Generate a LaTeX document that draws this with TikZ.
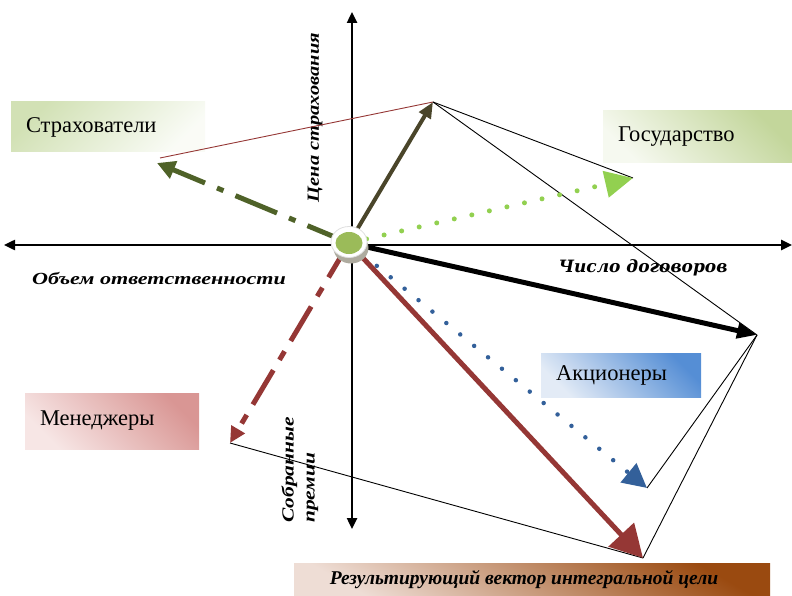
\documentclass[tikz,border=0pt]{standalone}
\usepackage{graphicx}
\usepackage{fontspec}
\setmainfont{Liberation Serif}
\newfontfamily\cambriaalt{DejaVu Serif}
\usetikzlibrary{arrows.meta,shapes.geometric}
\definecolor{olivec}{HTML}{4A452A}
\definecolor{gdark}{HTML}{4F6228}
\definecolor{glight}{HTML}{92D050}
\definecolor{bluec}{HTML}{33609A}
\definecolor{redc}{HTML}{953735}
\definecolor{cgreen}{HTML}{9BBB59}
\definecolor{sgreen}{HTML}{D2E1B5}
\definecolor{ggreen}{HTML}{C3D69B}
\definecolor{bblue}{HTML}{558ED5}
\definecolor{lblue}{HTML}{E3EBF6}
\definecolor{ppink}{HTML}{D99694}
\definecolor{lpink}{HTML}{F7E6E5}
\definecolor{brownc}{HTML}{9A4A10}
\definecolor{lbrown}{HTML}{EEDDD5}
\begin{document}
\begin{tikzpicture}[x=1pt,y=-1pt,
  axis/.style={line width=2.4pt,{Triangle[length=11pt,width=10pt]}-{Triangle[length=11pt,width=10pt]}},
  box/.style={inner xsep=15pt,inner ysep=0pt,align=left,font=\fontsize{22.5}{26}\selectfont},
  lbl/.style={font=\bfseries\itshape\fontsize{17}{21}\selectfont},
  thin/.style={line width=0.9pt}]
\useasboundingbox (0,0) rectangle (792,596);
% boxes
\node[box,text width=164pt,minimum height=50pt,top color=sgreen,bottom color=sgreen!12!white,shading angle=45] (strah) at (108,127) {Страхователи};
\node[box,text width=159pt,minimum height=52pt,top color=ggreen,bottom color=ggreen!15!white,shading angle=-45] (gos) at (697.5,137) {Государство};
\node[box,text width=130pt,minimum height=44pt,top color=bblue,bottom color=lblue,shading angle=-45] (akc) at (621,375) {Акционеры};
\node[box,text width=144pt,minimum height=56pt,top color=ppink,bottom color=lpink,shading angle=-45] (men) at (112,421) {Менеджеры};
\node[inner sep=0pt,minimum width=476pt,minimum height=33pt,top color=brownc,bottom color=lbrown,shading angle=-30,font=\bfseries\itshape\fontsize{19.5}{22}\selectfont] (res) at (532,579.5) {\hspace*{-16pt}Результирующий вектор интегральной цели};
% coordinates
\coordinate (O) at (349,243);
\coordinate (A) at (433,102);
\coordinate (S) at (157,163);
\coordinate (S2) at (160,158);
\coordinate (G) at (633,178);
\coordinate (C) at (757,335);
\coordinate (B) at (647,488);
\coordinate (R) at (643,558);
\coordinate (M) at (230,443);
\coordinate (vt) at (352,12);
\coordinate (vb) at (352,529);
\coordinate (hl) at (4,245);
\coordinate (hr) at (792,245);
% axes
\draw[axis] (vb) -- (vt);
\draw[axis] (hl) -- (hr);
% labels
\node[lbl] (vol) at (159,279) {\scalebox{1.3}[1]{Объем ответственности}};
\node[font=\cambriaalt\bfseries\itshape\fontsize{17}{21}\selectfont] (num) at (643,268) {Число договоров};
\node[lbl,rotate=90] (price) at (315,117.5) {\scalebox{1.2}[1]{Цена страхования}};
\node[lbl,rotate=90] (prem) at (300,470) {\scalebox{1.26}[1]{\begin{tabular}{@{}l@{}}Собранные\\премии\end{tabular}}};
% thin lines
\draw[redc,thin] (S2) -- (A);
\draw[thin] (A) -- (G);
\draw[thin] (A) -- (C);
\draw[thin] (C) -- (B);
\draw[thin] (C) -- (R);
\draw[thin] (M) -- (R);
% vectors
\draw[olivec,line width=4pt,-{Triangle[length=16pt,width=13pt]}] (O) -- (A);
\draw[gdark,line width=5pt,dash pattern=on 45pt off 13pt on 7pt off 13pt,-{Triangle[length=18pt,width=18pt]}] (O) -- (S);
\draw[glight,line width=5pt,line cap=round,dash pattern=on 0pt off 18pt,-{Triangle[length=28pt,width=26pt]}] (O) -- (G);
\draw[black,line width=5pt,-{Triangle[length=20pt,width=15pt]}] (O) -- (C);
\draw[bluec,line width=4.5pt,line cap=round,dash pattern=on 0pt off 18pt,-{Triangle[length=24pt,width=24pt]}] (O) -- (B);
\draw[redc,line width=5pt,-{Triangle[length=32pt,width=34pt]}] (O) -- (R);
\draw[redc,line width=5pt,dash pattern=on 40pt off 12pt on 10pt off 12pt,-{Triangle[length=16pt,width=15pt]}] (O) -- (M);
% center disc
\node[ellipse,fill=olivec!45!white,minimum width=35pt,minimum height=31pt,inner sep=0pt] (Osh) at (351,248) {};
\node[ellipse,fill=white,draw=gray!25,line width=0.8pt,minimum width=36pt,minimum height=31pt,inner sep=0pt] (Ow) at (349,242) {};
\node[ellipse,fill=cgreen,minimum width=27pt,minimum height=22pt,inner sep=0pt] (Og) at (349,243) {};
\end{tikzpicture}
\end{document}
